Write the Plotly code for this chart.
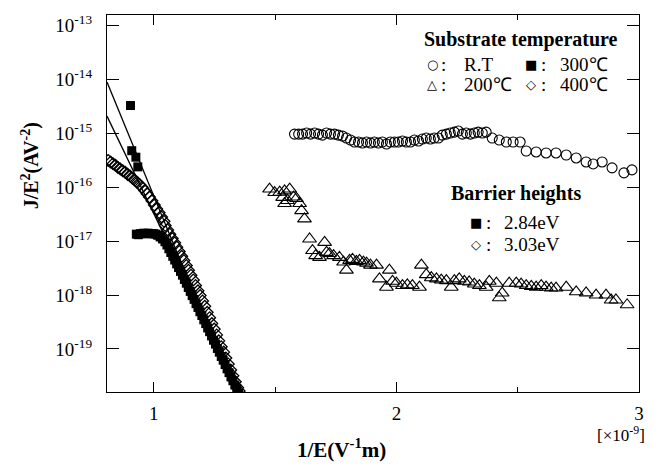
import plotly.graph_objects as go

# ---- data: 1/E (x 1e-9 V^-1 m) vs J/E^2 (A V^-2) ----

# substrate at room temperature (open circles)
rt_x = [1.580, 1.597, 1.613, 1.630, 1.646, 1.663, 1.679, 1.695, 1.712, 1.728,
        1.745, 1.761, 1.778, 1.794, 1.811, 1.827, 1.844, 1.860, 1.877, 1.893,
        1.909, 1.926, 1.942, 1.959, 1.975, 1.992, 2.008, 2.025, 2.041, 2.058,
        2.074, 2.091, 2.107, 2.123, 2.140, 2.156, 2.173, 2.189, 2.206, 2.222,
        2.239, 2.255, 2.272, 2.288, 2.305, 2.321, 2.337, 2.354, 2.370, 2.395,
        2.424, 2.453, 2.481, 2.510, 2.535, 2.576, 2.617, 2.658, 2.700, 2.741,
        2.782, 2.811, 2.848, 2.889, 2.938, 2.971]
rt_y = [9.75e-16, 9.75e-16, 9.75e-16, 1.02e-15, 9.75e-16, 1.02e-15, 9.75e-16, 9.34e-16, 1.02e-15, 9.75e-16,
        9.75e-16, 9.34e-16, 8.95e-16, 8.22e-16, 7.55e-16, 6.94e-16, 6.94e-16, 6.65e-16, 6.94e-16, 6.65e-16,
        6.94e-16, 6.65e-16, 6.94e-16, 6.37e-16, 6.94e-16, 6.94e-16, 6.94e-16, 7.24e-16, 6.94e-16, 6.94e-16,
        7.55e-16, 7.24e-16, 7.88e-16, 8.22e-16, 7.88e-16, 8.22e-16, 8.22e-16, 9.34e-16, 9.75e-16, 1.02e-15,
        1.06e-15, 1.11e-15, 9.75e-16, 1.02e-15, 9.75e-16, 1.02e-15, 1.06e-15, 1.02e-15, 1.06e-15, 8.22e-16,
        7.55e-16, 6.94e-16, 6.94e-16, 6.94e-16, 4.73e-16, 4.54e-16, 4.35e-16, 4.35e-16, 3.99e-16, 3.51e-16,
        2.96e-16, 2.72e-16, 2.96e-16, 2.30e-16, 1.86e-16, 2.11e-16]

# substrate at 200 C (open triangles)
t200_x = [1.477, 1.498, 1.519, 1.539, 1.560, 1.531, 1.551, 1.576, 1.588, 1.539,
          1.601, 1.609, 1.621, 1.642, 1.654, 1.667, 1.683, 1.704, 1.712, 1.724,
          1.741, 1.765, 1.782, 1.794, 1.807, 1.819, 1.835, 1.848, 1.864, 1.877,
          1.893, 1.918, 1.930, 1.959, 1.971, 1.984, 2.000, 2.025, 2.045, 2.066,
          2.095, 2.103, 2.123, 2.144, 2.165, 2.185, 2.206, 2.226, 2.239, 2.259,
          2.280, 2.300, 2.321, 2.342, 2.370, 2.383, 2.412, 2.424, 2.436, 2.465,
          2.494, 2.514, 2.535, 2.556, 2.576, 2.597, 2.617, 2.638, 2.658, 2.700,
          2.741, 2.782, 2.823, 2.864, 2.885, 2.905, 2.951]
t200_y = [9.3e-17, 8.0e-17, 8.1e-17, 8.6e-17, 9.3e-17, 6.5e-17, 5.7e-17, 6.6e-17, 6.2e-17, 5.0e-17,
          5.0e-17, 3.7e-17, 2.6e-17, 1.1e-17, 6.7e-18, 5.4e-18, 5.0e-18, 9.5e-18, 6.2e-18, 5.9e-18,
          5.4e-18, 5.0e-18, 4.1e-18, 2.9e-18, 4.4e-18, 4.6e-18, 4.2e-18, 4.4e-18, 4.1e-18, 3.9e-18,
          3.6e-18, 3.6e-18, 2.0e-18, 1.4e-18, 2.9e-18, 1.8e-18, 1.66e-18, 1.5e-18, 1.55e-18, 1.5e-18,
          1.4e-18, 3.6e-18, 2.4e-18, 2.1e-18, 2.0e-18, 1.9e-18, 1.85e-18, 1.4e-18, 1.85e-18, 2.0e-18,
          1.8e-18, 1.75e-18, 1.6e-18, 1.5e-18, 1.4e-18, 1.8e-18, 1.66e-18, 8.9e-19, 1.09e-18, 1.66e-18,
          1.66e-18, 1.6e-18, 1.5e-18, 1.45e-18, 1.4e-18, 1.5e-18, 1.4e-18, 1.35e-18, 1.35e-18, 1.4e-18,
          1.15e-18, 1.1e-18, 1.0e-18, 1.0e-18, 8.1e-19, 8.1e-19, 6.6e-19]

# substrate at 300 C (filled squares)
t300_x = [0.904, 0.909, 0.926, 0.934,
          0.928, 0.936, 0.944, 0.952, 0.960, 0.968, 0.976, 0.984, 0.992, 1.000,
          1.008, 1.016, 1.026, 1.036, 1.046, 1.054, 1.062, 1.070, 1.078, 1.086,
          1.094, 1.102, 1.110, 1.118, 1.126, 1.134, 1.142, 1.150, 1.158, 1.166,
          1.174, 1.182, 1.190, 1.198, 1.206, 1.214, 1.222, 1.230, 1.238, 1.246,
          1.254, 1.262, 1.270, 1.278, 1.286, 1.294, 1.302, 1.310, 1.318, 1.326,
          1.334, 1.342, 1.350]
t300_y = [3.31e-15, 4.79e-16, 3.63e-16, 2.40e-16,
          1.35e-17, 1.32e-17, 1.38e-17, 1.38e-17, 1.41e-17, 1.38e-17, 1.41e-17, 1.38e-17, 1.38e-17, 1.38e-17,
          1.35e-17, 1.29e-17, 1.20e-17, 1.10e-17, 9.77e-18, 8.51e-18, 7.24e-18, 6.17e-18, 5.25e-18, 4.47e-18,
          3.80e-18, 3.24e-18, 2.75e-18, 2.34e-18, 1.95e-18, 1.66e-18, 1.38e-18, 1.17e-18, 9.77e-19, 8.32e-19,
          6.92e-19, 5.89e-19, 4.90e-19, 4.17e-19, 3.47e-19, 2.95e-19, 2.45e-19, 2.09e-19, 1.74e-19, 1.45e-19,
          1.23e-19, 1.02e-19, 8.71e-20, 7.24e-20, 6.17e-20, 5.13e-20, 4.27e-20, 3.63e-20, 3.02e-20, 2.57e-20,
          2.14e-20, 1.82e-20, 1.51e-20]

# substrate at 400 C (open diamonds)
t400_x = [0.812, 0.822, 0.832, 0.842, 0.852, 0.862, 0.872, 0.882, 0.892, 0.902,
          0.912, 0.922, 0.932, 0.942, 0.952, 0.962, 0.972, 0.982, 0.992, 1.002,
          1.012, 1.022, 1.032, 1.042, 1.047, 1.057, 1.066, 1.076, 1.086, 1.095,
          1.105, 1.115, 1.124, 1.134, 1.143, 1.153, 1.163, 1.172, 1.182, 1.191,
          1.201, 1.210, 1.220, 1.230, 1.239, 1.249, 1.259, 1.268, 1.278, 1.288,
          1.297, 1.307, 1.317, 1.326, 1.336, 1.346, 1.352]
t400_y = [3.16e-16, 2.95e-16, 2.75e-16, 2.57e-16, 2.34e-16, 2.19e-16, 2.04e-16, 1.91e-16, 1.74e-16, 1.62e-16,
          1.48e-16, 1.35e-16, 1.23e-16, 1.12e-16, 1.00e-16, 8.71e-17, 7.59e-17, 6.61e-17, 5.62e-17, 4.68e-17,
          3.98e-17, 3.39e-17, 2.82e-17, 2.34e-17, 1.95e-17, 1.62e-17, 1.35e-17, 1.12e-17, 9.33e-18, 7.76e-18,
          6.46e-18, 5.25e-18, 4.37e-18, 3.55e-18, 2.88e-18, 2.34e-18, 1.91e-18, 1.51e-18, 1.20e-18, 9.77e-19,
          7.76e-19, 6.17e-19, 4.79e-19, 3.80e-19, 2.95e-19, 2.34e-19, 1.82e-19, 1.41e-19, 1.10e-19, 8.71e-20,
          6.76e-20, 5.25e-20, 4.07e-20, 3.16e-20, 2.45e-20, 1.91e-20, 1.66e-20]

# Fowler-Nordheim straight-line fits
fit_x = [0.807, 1.35]
fit_a_y = [9.0e-15, 1.0e-20]
fit_b_y = [2.1e-15, 1.7e-20]

y_decades = [1e-13, 1e-14, 1e-15, 1e-16, 1e-17, 1e-18, 1e-19]
y_ticktext = ["10<sup>-13</sup>", "10<sup>-14</sup>", "10<sup>-15</sup>", "10<sup>-16</sup>",
              "10<sup>-17</sup>", "10<sup>-18</sup>", "10<sup>-19</sup>"]
x_ticks = [1, 2, 3]
x_ticktext = ["1", "2", "3"]

# ---- figure ----
W, H = 656, 464
L, R, T, B = 107, 16, 13, 72
PW, PH = W - L - R, H - T - B

SERIF = "Liberation Serif"
SYM = "DejaVu Sans"


def px(xp):
    return (xp - L) / PW


def py(yp):
    return (H - B - yp) / PH


fig = go.Figure()

for fy in (fit_a_y, fit_b_y):
    fig.add_trace(go.Scatter(x=fit_x, y=fy, mode="lines",
                             line=dict(color="black", width=1.3)))

fig.add_trace(go.Scatter(x=rt_x, y=rt_y, mode="markers",
                         marker=dict(symbol="circle-open", size=10, color="black",
                                     line=dict(width=1.1))))
fig.add_trace(go.Scatter(x=t200_x, y=t200_y, mode="markers",
                         marker=dict(symbol="triangle-up-open", size=12, color="black",
                                     line=dict(width=1.1))))
fig.add_trace(go.Scatter(x=t300_x, y=t300_y, mode="markers",
                         marker=dict(symbol="square", size=9, color="black",
                                     line=dict(width=0))))
fig.add_trace(go.Scatter(x=t400_x, y=t400_y, mode="markers",
                         marker=dict(symbol="diamond-open", size=9, color="black",
                                     line=dict(width=1.3))))

axis_common = dict(showline=True, linecolor="black", linewidth=1.3, mirror="ticks",
                   ticks="inside", tickcolor="black", tickwidth=1.2,
                   showgrid=False, zeroline=False,
                   tickfont=dict(family=SERIF, size=19, color="black"))

fig.update_xaxes(range=[0.807, 3.0], tickvals=x_ticks, ticktext=x_ticktext,
                 ticklen=10, ticklabelstandoff=4,
                 minor=dict(tickvals=[1.5, 2.5], ticks="inside", ticklen=5,
                            tickcolor="black", tickwidth=1.2),
                 **axis_common)
fig.update_yaxes(type="log", range=[-19.8, -12.8], tickvals=y_decades,
                 ticktext=y_ticktext, ticklen=12, ticklabelstandoff=10,
                 **axis_common)

ann = []


def text(x, y, s, size=19, bold=False, xanchor="left", family=SERIF, angle=0):
    ann.append(dict(xref="paper", yref="paper", x=px(x), y=py(y), text=s,
                    showarrow=False, xanchor=xanchor, yanchor="middle",
                    textangle=angle,
                    font=dict(family=family, size=size, color="black",
                              weight="bold" if bold else "normal")))


# axis titles
text(30, 165, "J/E<sup>2</sup>(AV<sup>-2</sup>)", size=20, bold=True,
     xanchor="center", angle=-90)
text(342, 449, "1/E(V<sup>-1</sup>m)", size=21, bold=True, xanchor="center")
text(622, 434, "[×10<sup>-9</sup>]", size=17, xanchor="center")

# legend: substrate temperature
text(522, 38, "Substrate temperature", size=20, bold=True, xanchor="center")
text(433, 63, "○", size=13, xanchor="center", family=SYM)
text(440, 63, ":", size=19)
text(463, 63, "R.T", size=19)
text(532, 63, "■", size=13, xanchor="center", family=SYM)
text(540, 63, ":", size=19)
text(559, 63, "300℃", size=19)
text(433, 83, "△", size=13, xanchor="center", family=SYM)
text(440, 83, ":", size=19)
text(463, 83, "200℃", size=19)
text(532, 83, "◇", size=13, xanchor="center", family=SYM)
text(540, 83, ":", size=19)
text(559, 83, "400℃", size=19)

# legend: barrier heights
text(517, 192, "Barrier heights", size=20, bold=True, xanchor="center")
text(477, 222, "■", size=13, xanchor="center", family=SYM)
text(485, 222, ":", size=19)
text(503, 222, "2.84eV", size=19)
text(477, 244, "◇", size=13, xanchor="center", family=SYM)
text(485, 244, ":", size=19)
text(503, 244, "3.03eV", size=19)

fig.update_layout(width=W, height=H, margin=dict(l=L, r=R, t=T, b=B),
                  plot_bgcolor="white", paper_bgcolor="white",
                  showlegend=False, annotations=ann,
                  font=dict(family=SERIF, color="black"))

fig.write_html("out.html")
